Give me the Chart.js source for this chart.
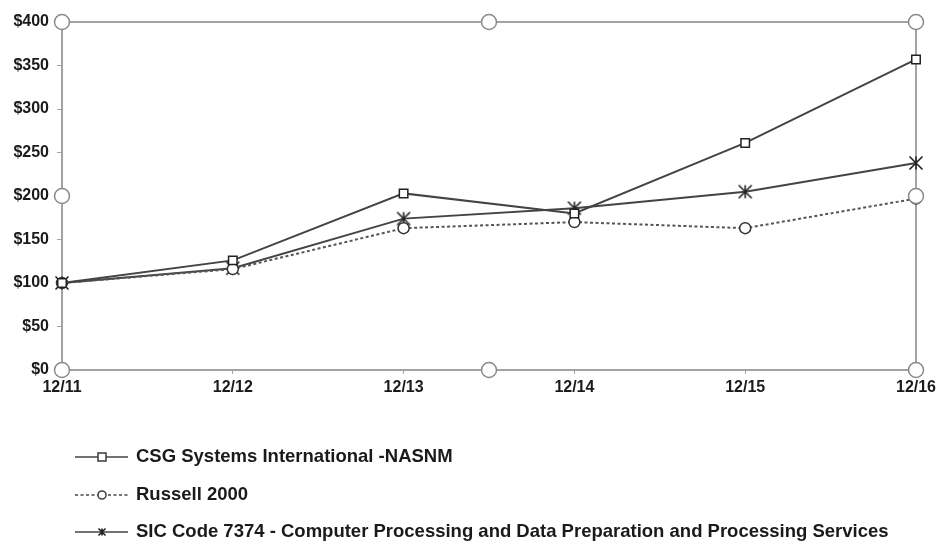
<!DOCTYPE html>
<html>
<head>
<meta charset="utf-8">
<script src="https://cdn.jsdelivr.net/npm/chart.js@4/dist/chart.umd.min.js"></script>
<style>
html,body{margin:0;padding:0;background:#fff;}
#wrap{position:relative;width:938px;height:543px;}
</style>
</head>
<body>
<div id="wrap"><canvas id="c" width="938" height="543"></canvas></div>
<script>
const labels = ['12/11','12/12','12/13','12/14','12/15','12/16'];
const seriesNames = ['CSG Systems International -NASNM','Russell 2000','SIC Code 7374 - Computer Processing and Data Preparation and Processing Services'];
const csgValues = [100,126,203,180,261,357];
const russellValues = [100,116,163,170,163,197];
const sicValues = [100,117,174,186,205,238];
const yTicks = [0,50,100,150,200,250,300,350,400];

const LINE = '#444';
const AXIS = '#a3a3a3';
const FONT = '"Liberation Sans", Arial, sans-serif';

function asterisk(size){
  const c = document.createElement('canvas');
  c.width = size; c.height = size;
  const g = c.getContext('2d');
  g.strokeStyle = '#222'; g.lineWidth = 1.6;
  const m = 1.5, s = size - 1.5;
  g.beginPath();
  g.moveTo(m,m); g.lineTo(s,s);
  g.moveTo(s,m); g.lineTo(m,s);
  g.moveTo(size/2,m); g.lineTo(size/2,s);
  g.stroke();
  return c;
}
const starImg = asterisk(16);

const frame = {
  id:'frame',
  beforeDatasetsDraw(chart){
    const {ctx, chartArea:a} = chart;
    ctx.save();
    ctx.strokeStyle = AXIS; ctx.lineWidth = 2;
    ctx.beginPath();
    ctx.moveTo(a.left, a.top); ctx.lineTo(a.right, a.top); ctx.lineTo(a.right, a.bottom);
    ctx.stroke();
    ctx.restore();
  },
  afterDraw(chart){
    const {ctx, chartArea:a} = chart;
    const mx = (a.left + a.right)/2, my = (a.top + a.bottom)/2;
    const pts = [[a.left,a.top],[mx,a.top],[a.right,a.top],[a.left,my],[a.right,my],[a.left,a.bottom],[mx,a.bottom],[a.right,a.bottom]];
    ctx.save();
    ctx.fillStyle = '#fff'; ctx.strokeStyle = '#8a8a8a'; ctx.lineWidth = 1.5;
    pts.forEach(p=>{ctx.beginPath();ctx.arc(p[0],p[1],7.5,0,Math.PI*2);ctx.fill();ctx.stroke();});
    // legend
    const rows = [457,495,532];
    chart.data.datasets.forEach((ds,i)=>{
      const y = rows[i];
      ctx.save();
      ctx.strokeStyle = LINE; ctx.lineWidth = 1.6;
      ctx.setLineDash(ds.borderDash || []);
      ctx.beginPath(); ctx.moveTo(75,y); ctx.lineTo(128,y); ctx.stroke();
      ctx.setLineDash([]);
      const cx = 102;
      if (ds.pointStyle === 'rect'){
        ctx.fillStyle='#fff'; ctx.fillRect(cx-4,y-4,8,8); ctx.strokeRect(cx-4,y-4,8,8);
      } else if (ds.pointStyle === 'circle'){
        ctx.fillStyle='#fff'; ctx.beginPath(); ctx.arc(cx,y,4,0,Math.PI*2); ctx.fill(); ctx.stroke();
      } else {
        ctx.drawImage(asterisk(10), cx-5, y-5);
      }
      ctx.fillStyle = '#1a1a1a';
      ctx.font = 'bold 18.5px ' + FONT;
      ctx.textBaseline = 'middle';
      ctx.fillText(ds.label, 136, y);
      ctx.restore();
    });
    ctx.restore();
  }
};

new Chart(document.getElementById('c'), {
  type:'line',
  data:{
    labels: labels,
    datasets:[
      {label:seriesNames[0], data:csgValues, borderColor:LINE, borderWidth:2, pointStyle:'rect', pointRadius:6, pointBorderColor:'#222', pointBackgroundColor:'#fff', pointBorderWidth:1.5, tension:0},
      {label:seriesNames[1], data:russellValues, borderColor:'#555', borderWidth:2, borderDash:[3,2.5], pointStyle:'circle', pointRadius:5.5, pointBorderColor:'#333', pointBackgroundColor:'#fff', pointBorderWidth:1.5, tension:0},
      {label:seriesNames[2], data:sicValues, borderColor:LINE, borderWidth:2, pointStyle:starImg, pointRadius:8, tension:0}
    ]
  },
  options:{
    responsive:false, animation:false,
    devicePixelRatio:1,
    layout:{padding:{left:0, top:22, right:22, bottom:143}},
    plugins:{legend:{display:false}, tooltip:{enabled:false}},
    scales:{
      x:{
        offset:false,
        grid:{drawOnChartArea:false, drawTicks:true, tickLength:4, color:AXIS},
        border:{color:AXIS, width:2},
        ticks:{color:'#1a1a1a', font:{family:FONT, size:16, weight:'bold'}, padding:4, maxRotation:0, autoSkip:false},
        afterFit(s){ s.height = 30; s.paddingRight = 0; s.paddingLeft = 0; }
      },
      y:{
        min:0, max:400,
        afterBuildTicks(s){ s.ticks = yTicks.map(v=>({value:v})); },
        grid:{drawOnChartArea:false, drawTicks:true, tickLength:5, color:AXIS},
        border:{color:AXIS, width:2},
        ticks:{color:'#1a1a1a', font:{family:FONT, size:16, weight:'bold'}, padding:8, callback:v=>'$'+v},
        afterFit(s){ s.width = 62; }
      }
    }
  },
  plugins:[frame]
});
</script>
</body>
</html>
